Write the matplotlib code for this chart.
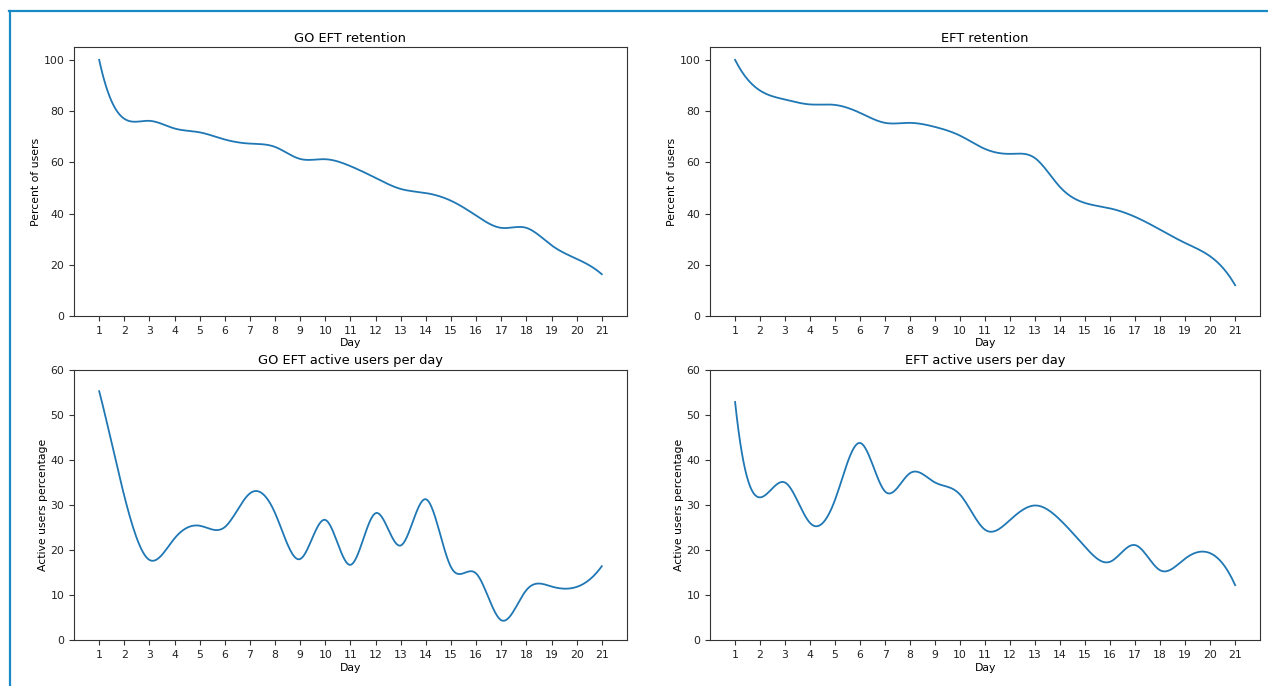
import numpy as np
import matplotlib
matplotlib.use('Agg')
from matplotlib import pyplot as plt
from matplotlib.lines import Line2D

days = list(range(1, 22))

go_retention = [100, 77, 76.2, 73.2, 71.7, 68.9, 67.3, 66, 61.3, 61.2, 58.5,
                53.9, 49.6, 48, 45, 39.2, 34.4, 34.4, 27.6, 22.3, 16.3]
eft_retention = [100, 88, 84.5, 82.6, 82.4, 79.3, 75.4, 75.4, 73.8, 70.4, 65.2,
                 63.3, 61.6, 50.3, 44.1, 42, 38.7, 33.7, 28.5, 23.3, 12]
go_active = [55.3, 32, 17.8, 22.6, 25.4, 25.1, 32.6, 28.2, 18, 26.7, 16.7,
             28.2, 21, 31.3, 16.2, 14.8, 4.4, 11.1, 11.9, 11.8, 16.4]
eft_active = [52.9, 31.7, 35, 26, 31.2, 43.8, 33, 37.1, 35, 32.3, 24.5,
              26.7, 29.9, 26.7, 20.7, 17.4, 21.1, 15.5, 18.1, 19.3, 12.2]


def smooth(x, y, num=300):
    # not-a-knot cubic spline, equal spacing
    x = np.asarray(x, float)
    y = np.asarray(y, float)
    n = len(x)
    h = x[1] - x[0]
    A = np.zeros((n, n))
    r = np.zeros(n)
    A[0, 0:3] = [1, -2, 1]
    A[-1, -3:] = [1, -2, 1]
    for i in range(1, n - 1):
        A[i, i - 1:i + 2] = [1, 4, 1]
        r[i] = 6 * (y[i - 1] - 2 * y[i] + y[i + 1]) / h ** 2
    M = np.linalg.solve(A, r)
    xs = np.linspace(x[0], x[-1], num)
    idx = np.clip(((xs - x[0]) // h).astype(int), 0, n - 2)
    t = xs - x[idx]
    b = (y[idx + 1] - y[idx]) / h - h * (2 * M[idx] + M[idx + 1]) / 6
    ys = y[idx] + b * t + M[idx] / 2 * t ** 2 + (M[idx + 1] - M[idx]) / (6 * h) * t ** 3
    return xs, ys


plt.rcParams['font.size'] = 7.8
plt.rcParams['axes.edgecolor'] = '#333333'
plt.rcParams['xtick.color'] = '#333333'
plt.rcParams['ytick.color'] = '#333333'
plt.rcParams['xtick.labelcolor'] = '#222222'
plt.rcParams['ytick.labelcolor'] = '#222222'

fig = plt.figure(figsize=(12.68, 6.86), dpi=100)
ax1 = fig.add_axes([0.0584, 0.5394, 0.436, 0.392])
ax2 = fig.add_axes([0.560, 0.5394, 0.4338, 0.392])
ax3 = fig.add_axes([0.0584, 0.067, 0.436, 0.3936])
ax4 = fig.add_axes([0.560, 0.067, 0.4338, 0.3936])

panels = [
    (ax1, go_retention, 'GO EFT retention', 'Percent of users'),
    (ax2, eft_retention, 'EFT retention', 'Percent of users'),
    (ax3, go_active, 'GO EFT active users per day', 'Active users percentage'),
    (ax4, eft_active, 'EFT active users per day', 'Active users percentage'),
]

for ax, vals, title, ylab in panels:
    xs, ys = smooth(days, vals)
    ax.plot(xs, ys, color='#1f77b4', linewidth=1.3)
    ax.set_xticks(days)
    ax.set_xlim(0, 22)
    ax.set_title(title, fontsize=9.4, pad=4)
    ax.set_xlabel('Day', labelpad=2)
    ax.set_ylabel(ylab, labelpad=1.5)

ax1.set_ylim(0, 105)
ax2.set_ylim(0, 105)
ax3.set_ylim(0, 60)
ax4.set_ylim(0, 60)

# blue frame of the screenshot
fig.add_artist(Line2D([9 / 1268, 1], [1 - 11 / 686, 1 - 11 / 686],
                      color='#1a8ac6', linewidth=1.6))
fig.add_artist(Line2D([10 / 1268, 10 / 1268], [0, 1 - 11 / 686],
                      color='#1a8ac6', linewidth=1.6))

fig.savefig('out.png', dpi=100)
